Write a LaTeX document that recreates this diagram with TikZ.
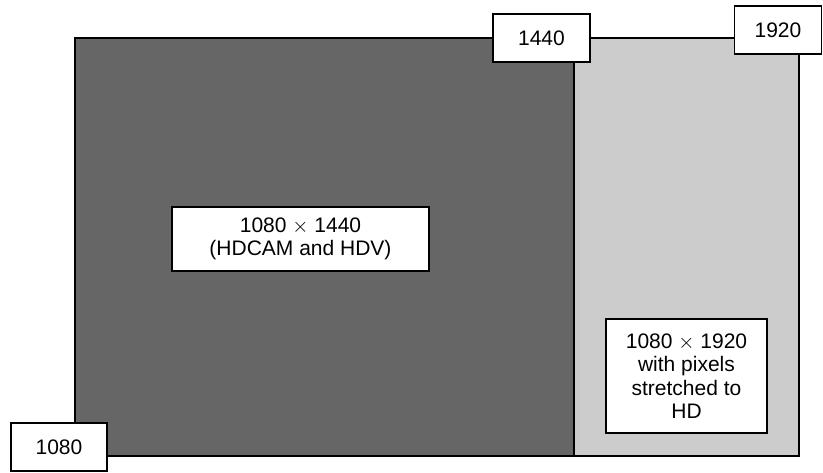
\documentclass[tikz,border=0pt]{standalone}
\usepackage{fontspec}
\setmainfont{Liberation Sans}
\definecolor{darkfill}{HTML}{666666}
\definecolor{lightfill}{HTML}{CCCCCC}
\begin{document}
\begin{tikzpicture}[x=1pt,y=-1pt,
  lab/.style={draw=black, line width=1.2pt, fill=white, inner sep=0pt, align=center,
    font=\fontsize{21}{23.5}\selectfont},
  area/.style={draw=black, line width=1.2pt}]
\useasboundingbox (0,0) rectangle (823,472);
\draw[area, fill=lightfill] (75,38) rectangle (799,456);
\draw[area, fill=darkfill] (75,38) rectangle (574,456);
\node[lab, minimum width=97pt, minimum height=48pt] (w1440) at (541.5,38) {1440};
\node[lab, minimum width=87pt, minimum height=48pt] (w1920) at (778,30) {1920};
\node[lab, minimum width=96pt, minimum height=48pt] (h1080) at (59,447) {1080};
\node[lab, minimum width=257pt, minimum height=64pt] (hdcam) at (300.5,239) {1080 $\times$ 1440\\(HDCAM and HDV)};
\node[lab, minimum width=161pt, minimum height=114pt] (hd) at (686.5,376) {1080 $\times$ 1920\\with pixels\\stretched to\\HD};
\end{tikzpicture}
\end{document}
